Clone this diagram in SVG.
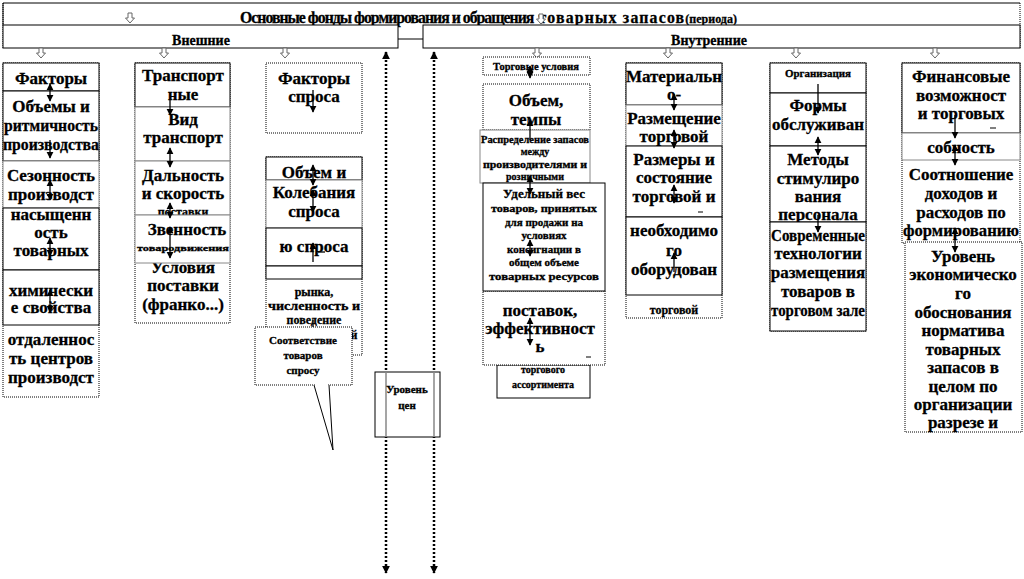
<svg xmlns="http://www.w3.org/2000/svg" width="1024" height="579" viewBox="0 0 1024 579">
<style>
.t{font-family:"Liberation Serif","Times New Roman",serif;font-weight:bold;fill:#000;stroke:#000;stroke-width:0.3;text-anchor:middle;font-size:17px}
.s12{font-size:12px}
.s11{font-size:11px}
.s10{font-size:10px}
.s9{font-size:9px}
.b{fill:#fff;stroke:#000;stroke-width:1}
.g{fill:#fff;stroke:#888;stroke-width:1}
.d{fill:#fff;stroke:#000;stroke-width:1;stroke-dasharray:1 1}
.dn{fill:none;stroke:#000;stroke-width:1;stroke-dasharray:1 1}
.c{fill:none;stroke:#000;stroke-width:1}
.dl{fill:none;stroke:#000;stroke-width:2.5;stroke-dasharray:2 2}
.ha{fill:#fff;stroke:#666;stroke-width:1}
.ar{fill:none;stroke:#000;stroke-width:1.3}
</style>
<defs>
<marker id="ah" viewBox="0 0 10 10" refX="9" refY="5" markerWidth="5.5" markerHeight="5.5" orient="auto-start-reverse"><path d="M0,0 L10,5 L0,10 z" fill="#000"/></marker>
<marker id="ahl" viewBox="0 0 10 10" refX="9" refY="5" markerWidth="3.2" markerHeight="3.2" orient="auto-start-reverse"><path d="M0,0 L10,5 L0,10 z" fill="#000"/></marker>
<path id="hol" d="M-2,-5 h4 v5 h2.5 l-4.5,5 l-4.5,-5 h2.5 z"/>
</defs>
<rect width="1024" height="579" fill="#fff"/>

<g id="header">
<path class="c" d="M3,25 V3 H1020"/>
<path class="dn" d="M3,3 V48 M1020,3 V48"/>
<use href="#hol" x="130" y="18" class="ha"/>
<text class="t" x="240" y="23" style="font-size:15.8px;text-anchor:start"><tspan style="letter-spacing:-1px">Основные фонды формирования и обращения</tspan><tspan style="letter-spacing:1.2px"> товарных запасов</tspan><tspan style="font-size:12px">(периода)</tspan></text>
<use href="#hol" x="541" y="19" class="ha"/>
</g>
<g id="external">
<rect class="b" x="3" y="25" width="395" height="23"/>
<text class="t" x="201" y="45" style="font-size:14px">Внешние</text>
</g>
<g id="internal">
<rect class="b" x="423" y="25" width="597" height="23"/>
<text class="t" x="709" y="45" style="font-size:14px">Внутренние</text>
</g>

<g id="connectors">
<path class="c" d="M398,39 H423"/>
<path class="dl" d="M386,52 V573" marker-start="url(#ahl)" marker-end="url(#ahl)"/>
<path class="dl" d="M434,52 V573" marker-start="url(#ahl)" marker-end="url(#ahl)"/>
<use href="#hol" x="41" y="53" class="ha"/>
<use href="#hol" x="164" y="53" class="ha"/>
<use href="#hol" x="285" y="53" class="ha"/>
<use href="#hol" x="537" y="53" class="ha"/>
<use href="#hol" x="668" y="53" class="ha"/>
<use href="#hol" x="796" y="53" class="ha"/>
<use href="#hol" x="935" y="53" class="ha"/>
</g>

<g id="col1">
<rect class="d" x="3" y="63" width="96" height="334"/>
<text class="t" x="51" y="345">отдаленнос</text>
<text class="t" x="51" y="364">ть центров</text>
<text class="t" x="51" y="383">производст</text>
<rect class="b" x="3" y="63" width="96" height="28"/>
<text class="t" x="51" y="84">Факторы</text>
<rect class="b" x="3" y="91" width="96" height="70"/>
<text class="t" x="51" y="112">Объемы и</text>
<text class="t" x="51" y="131" textLength="94" lengthAdjust="spacingAndGlyphs">ритмичность</text>
<text class="t" x="51" y="150" textLength="96" lengthAdjust="spacingAndGlyphs">производства</text>
<rect class="g" x="3" y="161" width="96" height="47"/>
<text class="t" x="51" y="181">Сезонность</text>
<text class="t" x="51" y="200">производст</text>
<rect class="b" x="3" y="208" width="96" height="62"/>
<text class="t" x="51" y="220">насыщенн</text>
<text class="t" x="51" y="238">ость</text>
<text class="t" x="51" y="256">товарных</text>
<rect class="b" x="3" y="270" width="96" height="55"/>
<text class="t" x="51" y="296">химически</text>
<text class="t" x="51" y="313">е свойства</text>
<path class="ar" d="M50,84 V101" marker-start="url(#ah)" marker-end="url(#ah)"/>
<path class="ar" d="M50,140 V158" marker-end="url(#ah)"/>
<path class="ar" d="M50,180 V200" marker-start="url(#ah)" marker-end="url(#ah)"/>
<path class="ar" d="M50,238 V256" marker-start="url(#ah)" marker-end="url(#ah)"/>
<path class="ar" d="M50,290 V312" marker-start="url(#ah)" marker-end="url(#ah)"/>
</g>

<g id="col2">
<rect class="d" x="135" y="63" width="95" height="260"/>
<text class="t" x="183" y="273">Условия</text>
<text class="t" x="183" y="291">поставки</text>
<text class="t" x="183" y="310">(франко...)</text>
<rect class="b" x="135" y="63" width="95" height="44"/>
<text class="t" x="183" y="81">Транспорт</text>
<text class="t" x="183" y="100">ные</text>
<rect class="g" x="135" y="107" width="95" height="54"/>
<text class="t" x="183" y="125">Вид</text>
<text class="t" x="183" y="143">транспорт</text>
<rect class="g" x="135" y="161" width="95" height="54"/>
<text class="t" x="183" y="181">Дальность</text>
<text class="t" x="183" y="199">и скорость</text>
<text class="t s12" x="183" y="216">поставки</text>
<rect class="g" x="135" y="215" width="95" height="48"/>
<text class="t" x="187" y="235">Звенность</text>
<text class="t s9" x="183" y="251" textLength="92" lengthAdjust="spacingAndGlyphs">товародвижения</text>
<path class="ar" d="M170,100 V115" marker-end="url(#ah)"/>
<path class="ar" d="M170,148 V167" marker-start="url(#ah)" marker-end="url(#ah)"/>
<path class="ar" d="M170,203 V218" marker-start="url(#ah)" marker-end="url(#ah)"/>
<path class="ar" d="M170,227 V258" marker-start="url(#ah)" marker-end="url(#ah)"/>
</g>

<g id="col3">
<rect class="d" x="266" y="63" width="96" height="70"/>
<text class="t" x="314" y="84">Факторы</text>
<text class="t" x="314" y="102">спроса</text>
<path class="ar" d="M313,90 V112" marker-end="url(#ah)"/>
<rect class="d" x="266" y="157" width="96" height="198"/>
<text class="t s12" x="314" y="296">рынка,</text>
<text class="t s12" x="314" y="310" textLength="92" lengthAdjust="spacingAndGlyphs">численность и</text>
<text class="t s12" x="314" y="324">поведение</text>
<text class="t s12" x="354" y="339">й</text>
<rect class="b" x="266" y="157" width="96" height="23"/>
<text class="t" x="314" y="178">Объем и</text>
<rect class="g" x="266" y="180" width="96" height="48"/>
<text class="t" x="314" y="198">Колебания</text>
<text class="t" x="314" y="217">спроса</text>
<rect class="b" x="266" y="228" width="96" height="38"/>
<text class="t" x="314" y="252">ю спроса</text>
<rect class="b" x="266" y="266" width="96" height="13"/>
<path class="ar" d="M313,165 V185" marker-start="url(#ah)" marker-end="url(#ah)"/>
<path class="ar" d="M313,190 V212" marker-start="url(#ah)" marker-end="url(#ah)"/>
<path class="ar" d="M313,243 V262" marker-start="url(#ah)"/>
<path class="ar" d="M318,252 H325"/>
<path class="ar" d="M313,320 V345" marker-end="url(#ah)"/>
</g>

<g id="callout">
<path class="d" d="M255,327 H352 V385 H255 Z"/>
<path fill="#fff" stroke="#000" stroke-width="1" d="M314,385 L333,450 L329,385"/>
<path fill="#fff" stroke="none" d="M315,384 H328 V386 H315 Z"/>
<text class="t s11" x="303" y="344">Соответствие</text>
<text class="t s11" x="303" y="359">товаров</text>
<text class="t s11" x="303" y="374">спросу</text>
</g>

<g id="price">
<rect class="b" x="375" y="372" width="65" height="65"/>
<path stroke="#888" stroke-width="1.5" d="M386,372 V437 M434,372 V437"/>
<text class="t s11" x="407" y="393">Уровень</text>
<text class="t s11" x="407" y="409">цен</text>
</g>

<g id="col4">
<rect class="d" x="483" y="57" width="107" height="18"/>
<text class="t s10" x="536" y="70" textLength="86" lengthAdjust="spacingAndGlyphs">Торговые условия</text>
<rect class="d" x="483" y="84" width="107" height="46"/>
<text class="t" x="536" y="106">Объем,</text>
<text class="t" x="536" y="125">темпы</text>
<rect class="b" x="497" y="365" width="93" height="33"/>
<text class="t s10" x="543" y="373">торгового</text>
<text class="t s10" x="543" y="388">ассортимента</text>
<rect class="d" x="483" y="291" width="122" height="74"/>
<text class="t" x="540" y="316">поставок,</text>
<text class="t" x="540" y="334">эффективност</text>
<text class="t" x="540" y="352">ь</text>
<path class="c" d="M586,357 H591"/>
<rect class="g" x="480" y="130" width="110" height="53"/>
<text class="t s10" x="535" y="143" textLength="108" lengthAdjust="spacingAndGlyphs">Распределение запасов</text>
<text class="t s10" x="535" y="155">между</text>
<text class="t s10" x="535" y="168" textLength="104" lengthAdjust="spacingAndGlyphs">производителями и</text>
<text class="t s10" x="535" y="180">розничными</text>
<rect class="b" x="483" y="183" width="122" height="108"/>
<text class="t" x="544" y="198" style="font-size:13px">Удельный вес</text>
<text class="t s11" x="544" y="212" textLength="106" lengthAdjust="spacingAndGlyphs">товаров, принятых</text>
<text class="t s11" x="544" y="226">для продажи на</text>
<text class="t s11" x="544" y="239">условиях</text>
<text class="t s11" x="544" y="253">консигнации  в</text>
<text class="t s11" x="544" y="266">общем объеме</text>
<text class="t s11" x="544" y="280" textLength="110" lengthAdjust="spacingAndGlyphs">товарных ресурсов</text>
<path class="ar" d="M530,66 V78" marker-start="url(#ah)" marker-end="url(#ah)"/>
<path class="ar" d="M530,120 V140" marker-start="url(#ah)"/>
<path class="ar" d="M530,176 V194" marker-start="url(#ah)" marker-end="url(#ah)"/>
<path class="ar" d="M530,240 V256" marker-start="url(#ah)" marker-end="url(#ah)"/>
<path class="ar" d="M530,318 V345" marker-start="url(#ah)" marker-end="url(#ah)"/>
</g>

<g id="col5">
<rect class="d" x="626" y="63" width="96" height="255"/>
<text class="t s12" x="674" y="314">торговой</text>
<rect class="b" x="626" y="63" width="96" height="42"/>
<text class="t" x="674" y="82">Материальн</text>
<text class="t" x="674" y="100">о-</text>
<rect class="g" x="626" y="105" width="96" height="41"/>
<text class="t" x="674" y="124">Размещение</text>
<text class="t" x="674" y="142">торговой</text>
<rect class="b" x="626" y="146" width="96" height="71"/>
<text class="t" x="674" y="165">Размеры и</text>
<text class="t" x="674" y="183">состояние</text>
<text class="t" x="674" y="202">торговой  и</text>
<path class="c" d="M698,212 H703"/>
<rect class="b" x="626" y="217" width="96" height="78"/>
<text class="t" x="674" y="236">необходимо</text>
<text class="t" x="674" y="256">го</text>
<text class="t" x="674" y="275">оборудован</text>
<path class="ar" d="M674,94 V110" marker-start="url(#ah)" marker-end="url(#ah)"/>
<path class="ar" d="M674,130 V148" marker-start="url(#ah)" marker-end="url(#ah)"/>
<path class="ar" d="M674,185 V203" marker-start="url(#ah)" marker-end="url(#ah)"/>
<path class="ar" d="M674,253 V272" marker-start="url(#ah)"/>
</g>

<g id="col6">
<rect class="d" x="770" y="63" width="96" height="268"/>
<rect class="b" x="770" y="63" width="96" height="30"/>
<text class="t s10" x="818" y="77" textLength="66" lengthAdjust="spacingAndGlyphs">Организация</text>
<rect class="b" x="770" y="93" width="96" height="53"/>
<text class="t" x="818" y="111">Формы</text>
<text class="t" x="818" y="130">обслуживан</text>
<rect class="b" x="770" y="146" width="96" height="76"/>
<text class="t" x="818" y="165">Методы</text>
<text class="t" x="818" y="184">стимулиро</text>
<text class="t" x="818" y="202">вания</text>
<text class="t" x="818" y="220">персонала</text>
<rect class="b" x="770" y="222" width="96" height="109"/>
<text class="t" x="818" y="241" textLength="94" lengthAdjust="spacingAndGlyphs">Современные</text>
<text class="t" x="818" y="259">технологии</text>
<text class="t" x="818" y="278">размещения</text>
<text class="t" x="818" y="297">товаров в</text>
<text class="t" x="818" y="316" textLength="94" lengthAdjust="spacingAndGlyphs">торговом зале</text>
<path class="ar" d="M818,84 V113" marker-end="url(#ah)"/>
<path class="ar" d="M818,137 V155" marker-start="url(#ah)" marker-end="url(#ah)"/>
<path class="ar" d="M818,215 V232" marker-end="url(#ah)"/>
</g>

<g id="col7">
<rect class="d" x="902" y="63" width="118" height="180"/>
<text class="t" x="961" y="180">Соотношение</text>
<text class="t" x="961" y="199">доходов и</text>
<text class="t" x="961" y="218">расходов по</text>
<text class="t" x="961" y="236" textLength="116" lengthAdjust="spacingAndGlyphs">формированию</text>
<rect class="b" x="902" y="63" width="118" height="70"/>
<text class="t" x="961" y="82">Финансовые</text>
<text class="t" x="961" y="101">возможност</text>
<text class="t" x="961" y="119">и торговых</text>
<path class="c" d="M990,128 H996"/>
<rect class="g" x="902" y="133" width="118" height="27"/>
<text class="t" x="961" y="153">собность</text>
<rect class="d" x="905" y="242" width="117" height="190"/>
<text class="t" x="963" y="262">Уровень</text>
<text class="t" x="963" y="280">экономическо</text>
<text class="t" x="963" y="299">го</text>
<text class="t" x="963" y="318">обоснования</text>
<text class="t" x="963" y="336">норматива</text>
<text class="t" x="963" y="355">товарных</text>
<text class="t" x="963" y="373">запасов в</text>
<text class="t" x="963" y="392">целом по</text>
<text class="t" x="963" y="410">организации</text>
<text class="t" x="963" y="428">разрезе и</text>
<path class="ar" d="M955,115 V138" marker-end="url(#ah)"/>
<path class="ar" d="M955,145 V165" marker-start="url(#ah)" marker-end="url(#ah)"/>
<path class="ar" d="M955,228 V252" marker-start="url(#ah)" marker-end="url(#ah)"/>
</g>
</svg>
